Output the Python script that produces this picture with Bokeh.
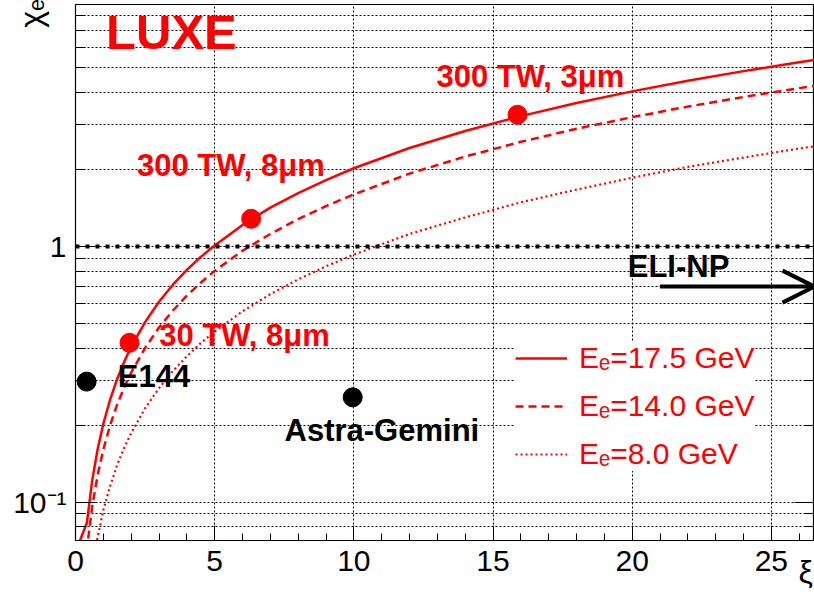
import math
from bokeh.plotting import figure
from bokeh.models import (FixedTicker, LogAxis, Span, Label, Arrow, OpenHead,
                          Legend, LegendItem)
from bokeh.embed import file_html
from bokeh.resources import INLINE

# ---------------- data ----------------
xi_175 = [0.10, 0.41, 0.6, 0.8, 1.0, 1.25, 1.5, 1.75, 2.0, 2.5, 3.0, 3.5, 4.0,
          4.5, 5.0, 6.0, 7.0, 8.0, 9.0, 10.0, 12.0, 14.0, 16.0, 18.0, 20.0,
          22.0, 24.0, 26.0, 27.0]
chi_175 = [0.068, 0.083, 0.1215, 0.162, 0.2025, 0.253, 0.304, 0.354, 0.405,
           0.506, 0.608, 0.709, 0.81, 0.911, 1.01, 1.215, 1.42, 1.62, 1.82,
           2.025, 2.43, 2.835, 3.24, 3.645, 4.05, 4.455, 4.86, 5.265, 5.47]

xi_140 = [0.40, 0.6, 0.8, 1.0, 1.25, 1.5, 1.75, 2.0, 2.5, 3.0, 3.5, 4.0, 4.5,
          5.0, 6.0, 7.0, 8.0, 9.0, 10.0, 12.0, 14.0, 16.0, 18.0, 20.0, 22.0,
          24.0, 26.0, 27.0]
chi_140 = [0.064, 0.0963, 0.128, 0.1605, 0.201, 0.241, 0.281, 0.321, 0.401,
           0.482, 0.562, 0.642, 0.722, 0.803, 0.963, 1.12, 1.28, 1.44, 1.60,
           1.93, 2.25, 2.57, 2.89, 3.21, 3.53, 3.85, 4.17, 4.33]

xi_80 = [0.70, 1.0, 1.25, 1.5, 1.75, 2.0, 2.5, 3.0, 3.5, 4.0, 4.5, 5.0, 6.0,
         7.0, 8.0, 9.0, 10.0, 12.0, 14.0, 16.0, 18.0, 20.0, 22.0, 24.0, 26.0,
         27.0]
chi_80 = [0.0651, 0.093, 0.116, 0.140, 0.163, 0.186, 0.233, 0.279, 0.326,
          0.372, 0.419, 0.465, 0.558, 0.651, 0.744, 0.837, 0.93, 1.12, 1.30,
          1.49, 1.67, 1.86, 2.05, 2.23, 2.42, 2.51]

series_labels = ["E\u2091=17.5 GeV", "E\u2091=14.0 GeV", "E\u2091=8.0 GeV"]

luxe_xi = [1.94, 6.31, 15.88]
luxe_chi = [0.42, 1.284, 3.28]
luxe_labels = ["30 TW, 8\u03bcm", "300 TW, 8\u03bcm", "300 TW, 3\u03bcm"]

other_xi = [0.40, 9.96]
other_chi = [0.296, 0.257]
other_labels = ["E144", "Astra-Gemini"]

chi_threshold = 1.0
eli_label = "ELI-NP"
eli_xi_start = 21.0
eli_xi_end = 26.55
eli_chi = 0.697

x_title = "\u03be"
y_title = "\u03c7\u2091"
x_ticks = [0, 5, 10, 15, 20, 25]
x_minor = [v for v in range(1, 27) if v % 5 != 0]
y_ticks = [0.1, 1.0]
y_minor = [0.08, 0.09, 0.2, 0.3, 0.4, 0.5, 0.6, 0.7, 0.8, 0.9,
           2, 3, 4, 5, 6, 7, 8]
y_tick_labels = {0.1: "10\u207b\u00b9", 1.0: "1"}

# ---------------- figure ----------------
FONT = "Liberation Sans"
RED = "#ff0000"
NBSP = "\u00a0"

p = figure(width=814, height=596, x_range=(0, 26.55), y_range=(0.0707, 8.86),
           y_axis_type="log", output_backend="svg", toolbar_location=None,
           min_border_left=75, min_border_right=0, min_border_top=4,
           min_border_bottom=56)
p.background_fill_color = "white"
p.border_fill_color = "white"
p.outline_line_color = "black"
p.outline_line_width = 1.2

xt = FixedTicker(ticks=x_ticks, minor_ticks=x_minor)
yt = FixedTicker(ticks=y_ticks, minor_ticks=y_minor)

p.xaxis.ticker = xt
p.xgrid.ticker = xt
p.yaxis.ticker = yt
p.ygrid.ticker = yt

for ax in (p.xaxis[0], p.yaxis[0]):
    ax.axis_line_color = "black"
    ax.major_tick_line_color = "black"
    ax.minor_tick_line_color = "black"
    ax.major_tick_out = 0
    ax.minor_tick_out = 0
    ax.major_label_text_font = FONT
    ax.major_label_text_font_size = "30px"
    ax.major_label_text_color = "black"
    ax.axis_label_text_font = FONT
    ax.axis_label_text_font_style = "normal"
    ax.axis_label_text_font_size = "32px"
    ax.axis_label_text_color = "black"
    ax.axis_label_align = "end"

p.xaxis.major_tick_in = 15
p.xaxis.minor_tick_in = 7
p.xaxis.major_label_standoff = 10
p.xaxis.axis_label = x_title + NBSP + NBSP
p.xaxis.axis_label_standoff = -20
p.yaxis.major_tick_in = 20
p.yaxis.minor_tick_in = 10
p.yaxis.major_label_standoff = 9
p.yaxis.major_label_overrides = y_tick_labels
p.yaxis.axis_label = y_title + NBSP + NBSP
p.yaxis.axis_label_standoff = -39

raxis = LogAxis(ticker=yt, major_tick_in=20, minor_tick_in=10,
                major_tick_out=0, minor_tick_out=0, major_label_standoff=0,
                major_label_text_font_size="0px", axis_line_color="black",
                major_tick_line_color="black", minor_tick_line_color="black")
raxis.major_label_overrides = {0.1: "", 1.0: ""}
p.add_layout(raxis, "right")

for g in (p.xgrid[0], p.ygrid[0]):
    g.grid_line_color = "black"
    g.grid_line_dash = "2 2"
    g.grid_line_width = 1
p.ygrid.minor_grid_line_color = "black"
p.ygrid.minor_grid_line_dash = "2 2"
p.ygrid.minor_grid_line_width = 1

# curves
r1 = p.line(xi_175, chi_175, line_color=RED, line_width=2.5)
r2 = p.line(xi_140, chi_140, line_color=RED, line_width=2.5, line_dash="8 5")
r3 = p.line(xi_80, chi_80, line_color=RED, line_width=2.2, line_dash="2 3")

# threshold line
p.add_layout(Span(location=chi_threshold, dimension="width", line_color="black",
                  line_width=4, line_dash="4 6"))

# points
p.scatter(luxe_xi, luxe_chi, size=19, color=RED)
p.scatter(other_xi, other_chi, size=19, color="black")

# arrow
p.add_layout(Arrow(end=OpenHead(size=32, line_width=4, line_color="black"),
                   x_start=eli_xi_start, y_start=eli_chi,
                   x_end=eli_xi_end, y_end=eli_chi,
                   line_width=4, line_color="black"))


def txt(x, y, s, color, size="31px", style="bold"):
    p.add_layout(Label(x=x, y=y, text=s, text_color=color, text_font=FONT,
                       text_font_size=size, text_font_style=style,
                       text_align="left", text_baseline="middle"))


# annotation texts (positions are layout, not data)
txt(1.10, 6.93, "LUXE", RED, size="49px")
luxe_pos = [(3.01, 0.448), (2.21, 2.073), (12.97, 4.64)]
for (x, y), s in zip(luxe_pos, luxe_labels):
    txt(x, y, s, RED)
other_pos = [(1.52, 0.309), (7.51, 0.1908)]
for (x, y), s in zip(other_pos, other_labels):
    txt(x, y, s, "black")
txt(19.84, 0.832, eli_label, "black")

legend = Legend(items=[LegendItem(label=series_labels[0], renderers=[r1]),
                       LegendItem(label=series_labels[1], renderers=[r2]),
                       LegendItem(label=series_labels[2], renderers=[r3])],
                location=(440, 69), margin=0, padding=8, spacing=14,
                glyph_width=52, glyph_height=30, label_height=30,
                label_standoff=12, label_text_font=FONT,
                label_text_font_size="30px", label_text_color=RED,
                background_fill_color="white", background_fill_alpha=1.0,
                border_line_color=None)
p.add_layout(legend)

open("out.html", "w").write(file_html(p, INLINE))
